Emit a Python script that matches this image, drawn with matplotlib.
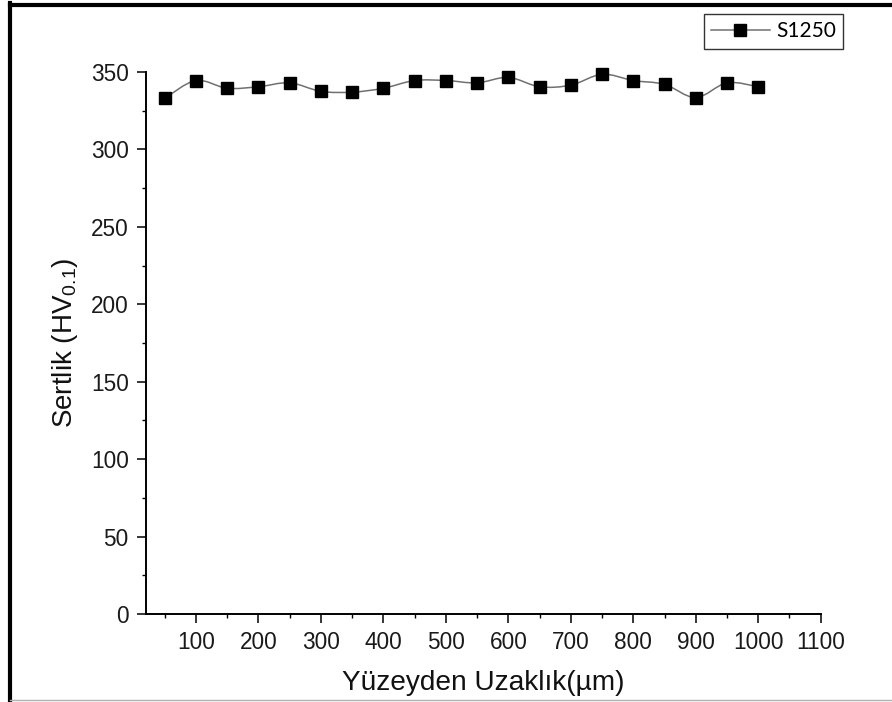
import matplotlib
matplotlib.use("Agg")
import matplotlib.pyplot as plt
from matplotlib.path import Path
from matplotlib.patches import PathPatch
from matplotlib.lines import Line2D
from matplotlib.ticker import MultipleLocator

plt.rcParams["font.family"] = ["Liberation Sans", "DejaVu Sans"]
plt.rcParams["mathtext.fontset"] = "custom"
plt.rcParams["mathtext.rm"] = "Liberation Sans"
plt.rcParams["mathtext.it"] = "Liberation Sans:italic"

# Hardness profile, sample S1250
distance_um = [50, 100, 150, 200, 250, 300, 350, 400, 450, 500,
               550, 600, 650, 700, 750, 800, 850, 900, 950, 1000]
hardness_hv = [333, 344.5, 339.5, 340.5, 343, 337.5, 337, 339.5, 344.5, 344.5,
               343, 346.5, 340.5, 341.5, 348.5, 344.5, 342, 333.5, 343, 340.5]
series_name = "S1250"
x_label = "Yüzeyden Uzaklık(µm)"
y_label = r"Sertlik (HV$_{0.1}$)"

W, H = 892, 702
fig = plt.figure(figsize=(W / 100, H / 100), dpi=100)
ax = fig.add_axes([146 / W, 1 - 614 / H, (820.7 - 146) / W, (614 - 72) / H])

# Smooth connecting curve (Catmull-Rom as cubic Bezier segments)
pts = list(zip(distance_um, hardness_hv))
n = len(pts)
verts = [pts[0]]
codes = [Path.MOVETO]
for i in range(n - 1):
    p0 = pts[i - 1] if i > 0 else pts[i]
    p1 = pts[i]
    p2 = pts[i + 1]
    p3 = pts[i + 2] if i + 2 < n else pts[i + 1]
    c1 = (p1[0] + (p2[0] - p0[0]) / 6, p1[1] + (p2[1] - p0[1]) / 6)
    c2 = (p2[0] - (p3[0] - p1[0]) / 6, p2[1] - (p3[1] - p1[1]) / 6)
    verts += [c1, c2, p2]
    codes += [Path.CURVE4] * 3
curve = PathPatch(Path(verts, codes), facecolor="none", edgecolor="#707070",
                  lw=1.1, zorder=2, clip_on=False)
ax.add_patch(curve)
ax.plot(distance_um, hardness_hv, linestyle="none", marker="s", ms=8,
        color="black", zorder=3, clip_on=False)

ax.set_xlim(20, 1100)
ax.set_ylim(0, 350)
ax.xaxis.set_major_locator(MultipleLocator(100))
ax.xaxis.set_minor_locator(MultipleLocator(50))
ax.yaxis.set_major_locator(MultipleLocator(50))
ax.yaxis.set_minor_locator(MultipleLocator(25))

for side in ("top", "right"):
    ax.spines[side].set_visible(False)
for side in ("left", "bottom"):
    ax.spines[side].set_linewidth(1.4)
ax.tick_params(which="major", direction="out", length=6.5, width=1.1,
               labelsize=16.3, pad=6, colors="black", labelcolor="#1a1a1a")
ax.tick_params(which="minor", direction="out", length=3.2, width=1.0)

ax.set_xlabel(x_label, fontsize=20.2, color="#111111")
ax.set_ylabel(y_label, fontsize=20, color="#111111")
ax.xaxis.set_label_coords(0.5, -0.103)
ax.yaxis.set_label_coords(-0.098, 0.5)

handle = Line2D([], [], color="#707070", lw=1.1, marker="s", ms=8,
                markerfacecolor="black", markeredgecolor="black")
leg = fig.legend([handle], [series_name], loc="upper right",
                 bbox_to_anchor=(843 / W, 1 - 14 / H), borderaxespad=0,
                 frameon=True, fancybox=False, edgecolor="black",
                 prop={"family": ["Lato", "DejaVu Sans"], "size": 15},
                 handlelength=2.8, handletextpad=0.3, borderpad=0.35)
leg.get_frame().set_linewidth(1.0)

# Outer frame lines
fig.add_artist(Line2D([10 / W, 1], [1 - 5 / H, 1 - 5 / H], transform=fig.transFigure,
                      color="black", lw=3.0))
fig.add_artist(Line2D([10 / W, 10 / W], [1 - 3 / H, 0], transform=fig.transFigure,
                      color="black", lw=3.0))
fig.add_artist(Line2D([10 / W, 1], [2.5 / H, 2.5 / H], transform=fig.transFigure,
                      color="#b0b0b0", lw=1.0))

fig.savefig("out.png", dpi=100)
